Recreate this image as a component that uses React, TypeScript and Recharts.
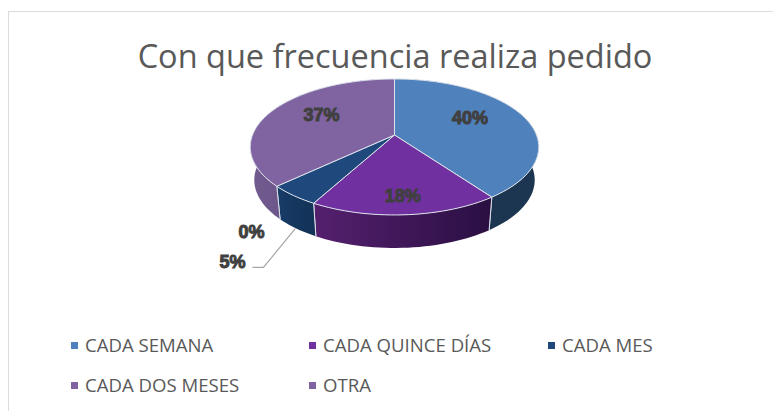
import React from "react"
import { PieChart, Pie, Legend } from "recharts"

const categories = ["CADA SEMANA", "CADA QUINCE DÍAS", "CADA MES", "CADA DOS MESES", "OTRA"]
const shares = [40, 18, 5, 37, 0]
const topColors = ["#4f81bd", "#7030a0", "#1f497d", "#8064a2", "#8064a2"]
const wallLeft = ["#1c3550", "#55206f", "#173c68", "#705a8e", "#705a8e"]
const wallRight = ["#1c3550", "#2a0f42", "#123155", "#5f4a7c", "#5f4a7c"]

// label placement: fraction of the radius, then a nudge in px
const labelRadii = [0.6, 0.8, 1, 0.55, 1]
const labelNudgeX = [-3, 0, -61, -4, -143]
const labelNudgeY = [-5, 0, 67, -6, 153]

const table = categories.map((name, i) => ({ name, value: shares[i], fill: topColors[i] }))

const TILT = 0.464
const PERSPECTIVE = 0.176
const DEPTH = 33
const BOTTOM_SCALE = 0.972
const EDGE = "#dde3ec"

// recharts angle -> point on the tilted disc
function project(cx: number, cy: number, r: number, angle: number, frac = 1) {
  const a = (angle * Math.PI) / 180
  const X = Math.cos(a) * frac
  const Y = -Math.sin(a) * frac
  const w = 1 - PERSPECTIVE * Y
  return { x: cx + (r * X) / w, y: cy + (r * TILT * Y) / w }
}

function rim(props: any) {
  const { cx, cy, outerRadius, startAngle, endAngle } = props
  const pts = []
  const steps = Math.max(2, Math.ceil(Math.abs(endAngle - startAngle) / 2))
  for (let i = 0; i <= steps; i++) {
    pts.push(project(cx, cy, outerRadius, startAngle + ((endAngle - startAngle) * i) / steps))
  }
  return pts
}

function TopSlice(props: any) {
  if (props.startAngle === props.endAngle) return null
  const pts = rim(props)
  const d = `M${props.cx},${props.cy} ` + pts.map((p) => `L${p.x},${p.y}`).join(" ") + " Z"
  return <path d={d} fill={props.fill} stroke={EDGE} strokeWidth={1} />
}

function WallSlice(props: any) {
  if (props.startAngle === props.endAngle) return null
  const pts = rim(props)
  // the bottom disc is a little narrower than the top one
  const drop = (p: { x: number; y: number }) => ({
    x: props.cx + (p.x - props.cx) * BOTTOM_SCALE,
    y: p.y + DEPTH,
  })
  const lower = [...pts].reverse().map(drop)
  const d = "M" + [...pts, ...lower].map((p) => `${p.x},${p.y}`).join(" L") + " Z"
  const i = categories.indexOf(props.name)
  const id = `wall-${i}`
  const front = (angle: number) => Math.sin((angle * Math.PI) / 180) < 0.05
  const first = pts[0]
  const last = pts[pts.length - 1]
  return (
    <g>
      <defs>
        <linearGradient id={id} x1="0" y1="0" x2="1" y2="0">
          <stop offset="0%" stopColor={wallLeft[i]} />
          <stop offset="100%" stopColor={wallRight[i]} />
        </linearGradient>
      </defs>
      <path d={d} fill={`url(#${id})`} />
      {front(props.startAngle) && (
        <line x1={first.x} y1={first.y} x2={drop(first).x} y2={drop(first).y} stroke={EDGE} />
      )}
      {front(props.endAngle) && (
        <line x1={last.x} y1={last.y} x2={drop(last).x} y2={drop(last).y} stroke={EDGE} />
      )}
    </g>
  )
}

function SliceLabel(props: any) {
  const { cx, cy, outerRadius, midAngle, index, value } = props
  const base = project(cx, cy, outerRadius, midAngle, labelRadii[index])
  const x = base.x + labelNudgeX[index]
  const y = base.y + labelNudgeY[index]
  return (
    <g>
      {/* leader line only for the small CADA MES slice */}
      {index === 2 && (
        <polyline
          points={`${base.x + 2},${base.y + DEPTH} ${base.x - 30},${base.y + 72} ${base.x - 41},${base.y + 72}`}
          fill="none"
          stroke="#a6a6a6"
          strokeWidth={1.2}
        />
      )}
      <text
        x={x}
        y={y}
        textAnchor="middle"
        dominantBaseline="central"
        fontFamily="Liberation Sans"
        fontWeight={700}
        fontSize={18}
        fill="#404040"
        stroke="#404040"
        strokeWidth={1}
      >
        {value}%
      </text>
    </g>
  )
}

function LegendRows(props: any) {
  const items = (props.payload || []).filter((item: any) => item.type !== "none")
  return (
    <div
      style={{
        display: "grid",
        gridTemplateColumns: "238px 239px 180px",
        rowGap: 14,
        paddingLeft: 71,
        fontFamily: "Open Sans",
        fontSize: 18.6,
        lineHeight: "26px",
        color: "#595959",
      }}
    >
      {items.map((item: any) => (
        <div key={item.value} style={{ display: "flex", alignItems: "center", whiteSpace: "nowrap" }}>
          <span style={{ width: 7, height: 7, background: item.color, marginRight: 7 }} />
          <span>{item.value}</span>
        </div>
      ))}
    </div>
  )
}

export default function App() {
  return (
    <div style={{ position: "absolute", left: 0, top: 0, width: 773, height: 411, overflow: "hidden", background: "#fff" }}>
      <div
        style={{
          position: "absolute",
          left: 8,
          top: 11,
          width: 800,
          height: 440,
          border: "1.5px solid #dcdcdc",
        }}
      />
      <div
        style={{
          position: "absolute",
          left: 0,
          top: 33,
          width: 790,
          textAlign: "center",
          fontFamily: "Open Sans",
          fontSize: 32.5,
          lineHeight: "46px",
          color: "#595959",
        }}
      >
        Con que frecuencia realiza pedido
      </div>
      <div style={{ position: "absolute", left: 0, top: 0 }}>
        <PieChart width={773} height={411} margin={{ top: 0, right: 0, bottom: 0, left: 0 }}>
          <Pie
            data={table}
            dataKey="value"
            nameKey="name"
            cx={394.5}
            cy={135}
            outerRadius={142}
            startAngle={90}
            endAngle={-270}
            shape={WallSlice}
            legendType="none"
            isAnimationActive={false}
          />
          <Pie
            data={table}
            dataKey="value"
            nameKey="name"
            cx={394.5}
            cy={135}
            outerRadius={142}
            startAngle={90}
            endAngle={-270}
            shape={TopSlice}
            label={SliceLabel}
            labelLine={false}
            isAnimationActive={false}
          />
          <Legend content={LegendRows} itemSorter={null} wrapperStyle={{ left: 0, top: 332, width: 773 }} />
        </PieChart>
      </div>
    </div>
  )
}
